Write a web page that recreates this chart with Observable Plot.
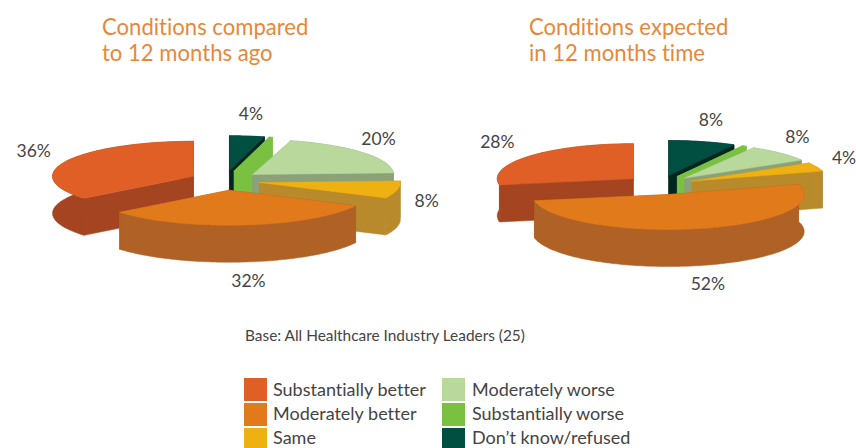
<!DOCTYPE html>
<html>
<head>
<meta charset="utf-8">
<script src="https://cdn.jsdelivr.net/npm/d3@7"></script>
<script src="https://cdn.jsdelivr.net/npm/@observablehq/plot@0.6"></script>
<style>
  html, body { margin: 0; padding: 0; background: #fff; }
  #page { position: relative; width: 856px; height: 448px; overflow: hidden; font-family: Lato, sans-serif; font-variant-ligatures: none; }
  .title { position: absolute; top: 14px; color: #E8873A; font-size: 22.1px; line-height: 26px; white-space: nowrap; }
  #chart { position: absolute; left: 0; top: 90px; }
  #caption { position: absolute; left: 245px; top: 326px; font-size: 15.4px; color: #444; white-space: nowrap; }
  .sw { position: absolute; width: 23px; height: 23px; }
  .sw.last { height: 20px; }
  .lab { position: absolute; font-size: 18px; line-height: 16px; color: #444; white-space: nowrap; }
</style>
</head>
<body>
<div id="page"></div>
<script>
const titles = [["Conditions compared", "to 12 months ago"], ["Conditions expected", "in 12 months time"]];
const caption = "Base: All Healthcare Industry Leaders (25)";
const categories = ["Substantially better", "Moderately better", "Same", "Moderately worse", "Substantially worse", "Don\u2019t know/refused"];
const compared = [36, 32, 8, 20, 0.4, 4];
const expected = [28, 52, 4, 8, 0.5, 8];
const labelled = [true, true, true, true, false, true];
const topColors = ["#DF5F26", "#E07A1A", "#EEB111", "#B9D89C", "#7AC142", "#004F40"];
const wallColors = ["#A44420", "#B06125", "#B88A2C", "#8BA177", "#7AC142", "#00261F"];

const pies = [
  {values: compared, cx: 224.6, cy: 180, rx: 141},
  {values: expected, cx: 659.6, cy: 184.5, rx: 136}
];
const ry = 35, depth = 37, explode = 35, squash = 0.28;

const polys = [], labels = [];
pies.forEach((p, pi) => {
  // clockwise from 12 o'clock, last category first
  const order = categories.map((_, i) => i).reverse();
  const arcs = d3.pie().sort(null).value(i => p.values[i])(order);
  const slices = arcs.map(a => {
    const mid = (a.startAngle + a.endAngle) / 2;
    return {i: a.data, a0: a.startAngle, a1: a.endAngle, mid,
      ax: p.cx + Math.sin(mid) * explode, ay: p.cy - Math.cos(mid) * explode * squash};
  });
  slices.sort((u, v) => Math.cos(v.mid) - Math.cos(u.mid));
  slices.forEach(s => {
    const n = Math.max(2, Math.ceil((s.a1 - s.a0) * 40));
    const rim = d3.range(n + 1).map(k => {
      const t = s.a0 + (s.a1 - s.a0) * k / n;
      return [s.ax + Math.sin(t) * p.rx, s.ay - Math.cos(t) * ry];
    });
    const add = (name, pts, color) => {
      const id = `${pi}-${s.i}-${name}`;
      [...pts, pts[0]].forEach(([x, y]) => polys.push({id, x, y, color}));
    };
    const r0 = rim[0], r1 = rim[rim.length - 1], apex = [s.ax, s.ay];
    const down = ([x, y]) => [x, y + depth];
    add("w0", [apex, r0, down(r0), down(apex)], wallColors[s.i]);
    add("w1", [apex, r1, down(r1), down(apex)], wallColors[s.i]);
    add("rim", [...rim, ...rim.slice().reverse().map(down)], wallColors[s.i]);
    add("top", [apex, ...rim], topColors[s.i]);
    if (labelled[s.i]) {
      const c = Math.cos(s.mid), sn = Math.sin(s.mid);
      const radius = sn > 0 ? 208 - 13 * Math.sin(2 * s.mid) ** 2 : 212;
      labels.push({
        x: p.cx + sn * radius,
        y: p.cy - c * (c > 0 ? 67 : 102),
        text: `${p.values[s.i]}%`
      });
    }
  });
});

const chart = Plot.plot({
  width: 856, height: 232,
  margin: 0,
  x: {domain: [0, 856], range: [0, 856], axis: null},
  y: {domain: [90, 322], range: [0, 232], axis: null},
  marks: [
    Plot.line(polys, {x: "x", y: "y", z: "id", fill: "color", stroke: "color", strokeWidth: 0.5, curve: "linear"}),
    Plot.text(labels, {x: "x", y: "y", text: "text", fontSize: 17.5, fill: "#444", fontFamily: "Lato, sans-serif"})
  ]
});
chart.id = "chart";
chart.style.overflow = "visible";

const page = document.getElementById("page");
page.appendChild(chart);
titles.forEach((t, i) => {
  const d = document.createElement("div");
  d.className = "title";
  d.style.left = (i ? 529 : 102) + "px";
  d.innerHTML = t.join("<br>");
  page.appendChild(d);
});
const cap = document.createElement("div");
cap.id = "caption"; cap.textContent = caption; page.appendChild(cap);
categories.forEach((c, i) => {
  const col = i < 3 ? 0 : 1, row = i % 3;
  const sw = document.createElement("div");
  sw.className = "sw" + (row === 2 ? " last" : "");
  sw.style.left = (col ? 442 : 244) + "px";
  sw.style.top = (378 + row * 25) + "px";
  sw.style.background = topColors[i];
  page.appendChild(sw);
  const l = document.createElement("div");
  l.className = "lab";
  l.style.left = (col ? 472 : 273) + "px";
  l.style.top = (381 + row * 24) + "px";
  l.textContent = c;
  page.appendChild(l);
});
</script>
</body>
</html>
